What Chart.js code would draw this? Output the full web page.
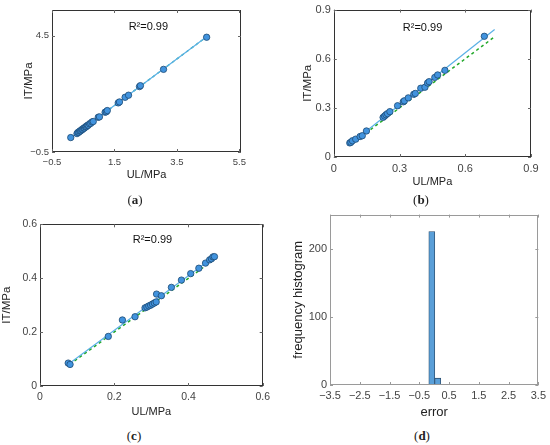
<!DOCTYPE html>
<html>
<head>
<meta charset="utf-8">
<script src="https://cdn.jsdelivr.net/npm/chart.js@4.4.0/dist/chart.umd.min.js"></script>
<style>
  body { margin: 0; background: #fff; }
  #fig { position: relative; width: 550px; height: 445px; overflow: hidden; }
  canvas { position: absolute; }
  .cap { position: absolute; font-family: "Liberation Serif", serif; font-size: 13px; color: #222; transform: translateX(-50%); }
</style>
</head>
<body>
<div id="fig">
  <canvas id="pa" width="275" height="195" style="left:0;top:0"></canvas>
  <canvas id="pb" width="275" height="195" style="left:275px;top:0"></canvas>
  <canvas id="pc" width="275" height="205" style="left:0;top:215px"></canvas>
  <canvas id="pd" width="275" height="215" style="left:275px;top:205px"></canvas>
  <div class="cap" style="left:135px;top:192px">(<b>a</b>)</div>
  <div class="cap" style="left:421px;top:192px">(<b>b</b>)</div>
  <div class="cap" style="left:134px;top:428px">(<b>c</b>)</div>
  <div class="cap" style="left:422px;top:428px">(<b>d</b>)</div>
</div>
<script>
// (a) UL vs IT
var aUL = [0.10, 0.30, 0.33, 0.36, 0.39, 0.42, 0.45, 0.48, 0.51, 0.54, 0.57, 0.60, 0.63, 0.66, 0.70, 0.74, 0.78, 0.82, 0.98, 1.02, 1.20, 1.24, 1.27, 1.62, 1.66, 1.84, 1.95, 2.30, 2.33, 3.07, 4.45];
var aIT = [0.12, 0.29, 0.34, 0.35, 0.40, 0.41, 0.46, 0.47, 0.52, 0.53, 0.58, 0.59, 0.64, 0.65, 0.71, 0.73, 0.79, 0.81, 0.99, 1.01, 1.21, 1.23, 1.28, 1.61, 1.65, 1.85, 1.94, 2.31, 2.35, 3.05, 4.43];
var aFitX = [0.10, 4.45], aFitY = [0.10, 4.45];
var aXTicks = [-0.5, 1.5, 3.5, 5.5], aYTicks = [-0.5, 4.5];

// (b)
var bUL = [0.073, 0.078, 0.085, 0.10, 0.12, 0.13, 0.149, 0.225, 0.232, 0.238, 0.245, 0.256, 0.291, 0.317, 0.322, 0.340, 0.365, 0.372, 0.397, 0.416, 0.428, 0.435, 0.461, 0.474, 0.507, 0.687];
var bIT = [0.086, 0.090, 0.099, 0.109, 0.125, 0.130, 0.159, 0.242, 0.250, 0.258, 0.265, 0.277, 0.313, 0.337, 0.343, 0.361, 0.383, 0.388, 0.420, 0.426, 0.452, 0.460, 0.486, 0.501, 0.529, 0.737];
var bFitX = [0.08, 0.734], bFitY = [0.085, 0.778];
var bIdealX = [0.08, 0.735], bIdealY = [0.08, 0.735];
var bTicks = [0, 0.3, 0.6, 0.9];

// (c)
var cUL = [0.076, 0.081, 0.184, 0.222, 0.256, 0.283, 0.288, 0.293, 0.298, 0.303, 0.308, 0.313, 0.314, 0.327, 0.354, 0.381, 0.406, 0.428, 0.446, 0.457, 0.462, 0.466, 0.470];
var cIT = [0.085, 0.080, 0.184, 0.245, 0.257, 0.290, 0.293, 0.297, 0.300, 0.304, 0.308, 0.312, 0.341, 0.335, 0.366, 0.393, 0.417, 0.437, 0.456, 0.468, 0.472, 0.479, 0.480];
var cFitX = [0.077, 0.472], cFitY = [0.082, 0.482];
var cIdealX = [0.08, 0.47], cIdealY = [0.08, 0.47];
var cTicks = [0, 0.2, 0.4, 0.6];

// (d) error histogram
var dBinCenters = [-0.08, 0.12];
var dCounts = [225, 10];
var dXTicks = [-3.5, -2.5, -1.5, -0.5, 0.5, 1.5, 2.5, 3.5];
var dYTicks = [0, 100, 200];

var FONT = '"Liberation Sans", Arial, sans-serif';

function pts(xs, ys) {
  return xs.map(function(x, i) { return {x: x, y: ys[i]}; });
}
function fmt(v) {
  if (v === 0) return '0';
  return v < 0 ? '\u2212' + String(-v) : String(v);
}

// MATLAB-like box with inner tick marks and an optional text label
var boxPlugin = {
  id: 'boxPlugin',
  afterDatasetsDraw: function(chart, args, opts) {
    var ctx = chart.ctx, a = chart.chartArea, x = chart.scales.x, y = chart.scales.y;
    ctx.save();
    ctx.strokeStyle = opts.color || '#333';
    ctx.lineWidth = 1;
    ctx.strokeRect(Math.round(a.left) + 0.5, Math.round(a.top) + 0.5, Math.round(a.width) - 1, Math.round(a.height) - 1);
    ctx.strokeStyle = opts.tickColor || '#777';
    ctx.beginPath();
    x.ticks.forEach(function(t) {
      var px = Math.round(x.getPixelForValue(t.value)) + 0.5;
      ctx.moveTo(px, a.bottom); ctx.lineTo(px, a.bottom - 3);
      ctx.moveTo(px, a.top); ctx.lineTo(px, a.top + 3);
    });
    y.ticks.forEach(function(t) {
      var py = Math.round(y.getPixelForValue(t.value)) + 0.5;
      ctx.moveTo(a.left, py); ctx.lineTo(a.left + 3, py);
      ctx.moveTo(a.right, py); ctx.lineTo(a.right - 3, py);
    });
    ctx.stroke();
    if (opts.label) {
      ctx.fillStyle = '#111';
      ctx.font = '11px ' + FONT;
      ctx.textAlign = 'center';
      ctx.textBaseline = 'middle';
      ctx.fillText(opts.label, a.left + a.width * opts.lx, a.top + a.height * opts.ly);
    }
    ctx.restore();
  }
};

function axis(min, max, ticks, title, size, tickPad, tickSize, titleSize) {
  return {
    type: 'linear', min: min, max: max, offset: false,
    afterBuildTicks: function(s) { s.ticks = ticks.map(function(v) { return {value: v}; }); },
    afterFit: function(s) { if (s.isHorizontal()) s.height = size; else s.width = size; },
    grid: { display: false, drawTicks: false },
    border: { display: false },
    ticks: { color: '#444', font: { family: FONT, size: tickSize }, padding: tickPad, maxRotation: 0,
             autoSkip: false, callback: function(v) { return fmt(v); } },
    title: { display: true, text: title, color: '#222', padding: 0,
             font: { family: FONT, size: titleSize } }
  };
}

var pointStyle = { backgroundColor: '#4193de', borderColor: '#1d4a74', borderWidth: 0.8, pointRadius: 3.2, showLine: false };

function scatterChart(id, sets, xAx, yAx, padding, label) {
  new Chart(document.getElementById(id), {
    type: 'scatter',
    data: { datasets: sets },
    options: {
      responsive: false, animation: false, devicePixelRatio: 1,
      layout: { padding: padding },
      scales: { x: xAx, y: yAx },
      plugins: { legend: { display: false }, tooltip: { enabled: false },
                 boxPlugin: { color: '#333', tickColor: '#666', label: label.t, lx: label.x, ly: label.y } }
    },
    plugins: [boxPlugin]
  });
}

function lineSet(xs, ys, color, dash, w) {
  return { data: pts(xs, ys), showLine: true, pointRadius: 0, borderColor: color,
           borderWidth: w, borderDash: dash, fill: false };
}

// (a)
scatterChart('pa', [
  Object.assign({ data: pts(aUL, aIT), order: 1 }, pointStyle),
  Object.assign(lineSet(aFitX, aFitY, '#2fb0a0', [3, 3], 1.4), { order: 3 }),
  Object.assign(lineSet(aFitX, aFitY, '#5ab0e6', [], 1.2), { order: 2 })
], axis(-0.5, 5.55, aXTicks, 'UL/MPa', 29.6, 5, 9.5, 11),
   axis(-0.5, 5.6, aYTicks, 'IT/MPa', 29.6, 3, 9.5, 11.5),
   { left: 22.4, top: 10, right: 34, bottom: 13.4 },
   { t: 'R\u00b2=0.99', x: 0.51, y: 0.12 });

// (b)
scatterChart('pb', [
  Object.assign({ data: pts(bUL, bIT), order: 1 }, pointStyle),
  Object.assign(lineSet(bIdealX, bIdealY, '#22a82a', [3, 3], 1.5), { order: 3 }),
  Object.assign(lineSet(bFitX, bFitY, '#5ab0e6', [], 1.2), { order: 2 })
], axis(0, 0.9, bTicks, 'UL/MPa', 31.6, 5, 11, 11),
   axis(0, 0.9, bTicks, 'IT/MPa', 32.4, 3, 11, 11.5),
   { left: 26.4, top: 5, right: 19, bottom: 6.4 },
   { t: 'R\u00b2=0.99', x: 0.45, y: 0.125 });

// (c)
scatterChart('pc', [
  Object.assign({ data: pts(cUL, cIT), order: 1 }, pointStyle),
  Object.assign(lineSet(cIdealX, cIdealY, '#22a82a', [3, 3], 1.5), { order: 3 }),
  Object.assign(lineSet(cFitX, cFitY, '#5ab0e6', [], 1.2), { order: 2 })
], axis(0, 0.6, cTicks, 'UL/MPa', 32.6, 5, 10.5, 11),
   axis(0, 0.6, cTicks, 'IT/MPa', 40, 3, 10.5, 11.5),
   { left: 0, top: 8, right: 12, bottom: 1.4 },
   { t: 'R\u00b2=0.99', x: 0.505, y: 0.094 });

// (d)
new Chart(document.getElementById('pd'), {
  type: 'bar',
  data: { datasets: [{
    data: pts(dBinCenters, dCounts),
    backgroundColor: '#5a9fd8', borderColor: '#2b4d6e', borderWidth: 0.8,
    barPercentage: 1, categoryPercentage: 1
  }] },
  options: {
    responsive: false, animation: false, devicePixelRatio: 1,
    layout: { padding: { left: 15.2, top: 8, right: 11, bottom: 0 } },
    scales: {
      x: axis(-3.5, 3.5, dXTicks, 'error', 35, 4, 11, 13),
      y: axis(0, 250, dYTicks, 'frequency histogram', 39.8, 3, 11, 13)
    },
    plugins: { legend: { display: false }, tooltip: { enabled: false },
               boxPlugin: { color: '#9a9a9a', tickColor: '#9a9a9a' } }
  },
  plugins: [boxPlugin]
});
</script>
</body>
</html>
